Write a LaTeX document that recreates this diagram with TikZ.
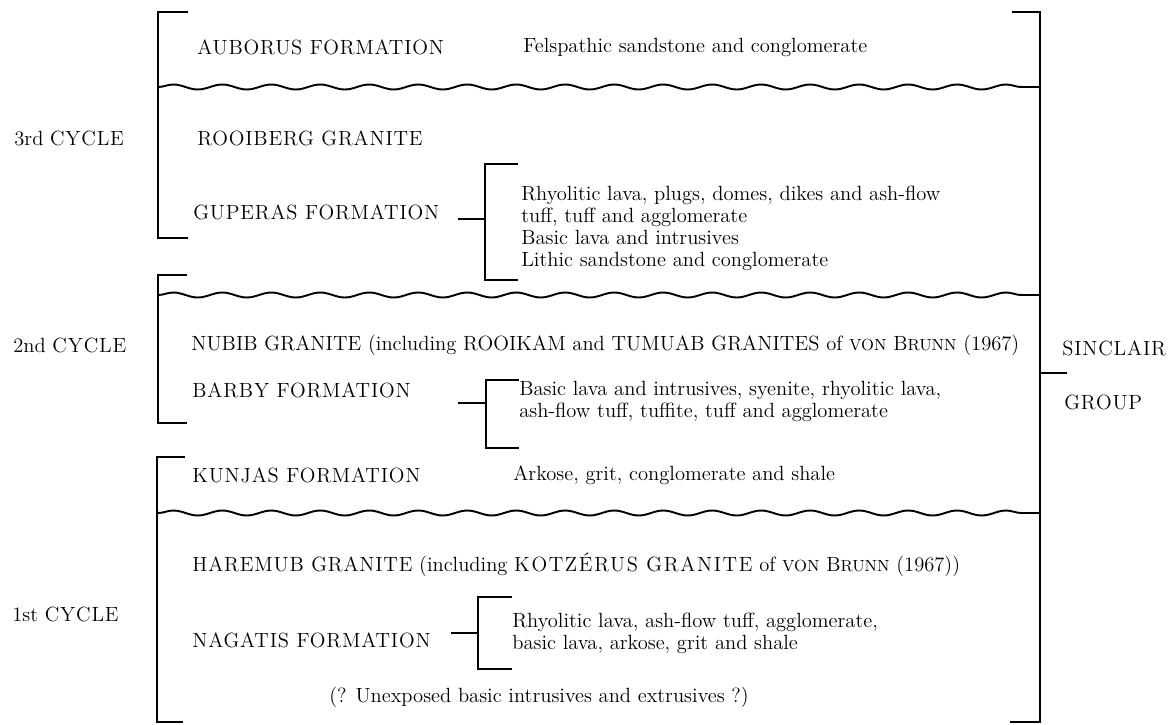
\documentclass[tikz,border=0pt]{standalone}
\usepackage{fontspec}
\setmainfont{Latin Modern Roman}
\usepackage{tikz}
\usetikzlibrary{decorations.pathmorphing,positioning}

% letter-spaced capitals
\newcommand{\spc}[1]{{\addfontfeature{LetterSpace=4}#1}}
\newcommand{\nspc}[1]{{\addfontfeature{LetterSpace=0.5}#1}}
\newcommand{\wspc}[1]{{\addfontfeature{LetterSpace=8}#1}}
% small capitals of the author name
\newcommand{\vonbrunn}{{\fontsize{9.2}{10}\selectfont VON} B{\fontsize{9.2}{10}\selectfont RUNN}}

\begin{document}
\begin{tikzpicture}[
    x=0.02cm, y=-0.02cm,
    txt/.style={anchor=west, inner sep=0pt, font=\fontsize{11.7}{12.5}\selectfont},
    unit/.style={txt},
    rock/.style={txt, align=left},
    cycle/.style={txt},
    brk/.style={line width=1.4pt},
    tick/.style={line width=1.3pt},
    wave/.style={line width=1.1pt, decorate,
        decoration={snake, amplitude=0.05cm, segment length=0.98cm}},
]
\useasboundingbox (0,0) rectangle (1173,724);

% --- Cycle labels ---
\node[cycle] (cyc3) at (14,138) {3rd \spc{CYCLE}};
\node[cycle] (cyc2) at (13,345) {2nd \spc{CYCLE}};
\node[cycle] (cyc1) at (12,614) {1st \spc{CYCLE}};

% --- 3rd cycle ---
\node[unit] (auborus) at (197,47) {\spc{AUBORUS FORMATION}};
\node[rock] (auborusrk) at (523,47) {Felspathic sandstone and conglomerate};
\node[unit] (rooiberg) at (197,138) {\spc{ROOIBERG GRANITE}};
\node[unit] (guperas) at (193,212) {\spc{GUPERAS FORMATION}};
\node[rock] (guperasrk) at (521,228) {Rhyolitic lava, plugs, domes, dikes and ash-flow\\
    tuff, tuff and agglomerate\\Basic lava and intrusives\\Lithic sandstone and conglomerate};

% --- 2nd cycle ---
\node[unit] (nubib) at (191,345) {\nspc{NUBIB GRANITE} (including \nspc{ROOIKAM} and \nspc{TUMUAB GRANITES} of \vonbrunn{} (1967)};
\node[unit] (barby) at (192,390) {\spc{BARBY FORMATION}};
\node[rock] (barbyrk) at (519,401) {Basic lava and intrusives, syenite, rhyolitic lava,\\
    ash-flow tuff, tuffite, tuff and agglomerate};
\node[unit] (kunjas) at (192,475) {\spc{KUNJAS FORMATION}};
\node[rock] (kunjasrk) at (513,475) {Arkose, grit, conglomerate and shale};

% --- 1st cycle ---
\node[unit] (haremub) at (192,565) {\spc{HAREMUB GRANITE} (including \wspc{KOTZÉRUS GRANITE} of \vonbrunn{} (1967))};
\node[unit] (nagatis) at (192,640) {\spc{NAGATIS FORMATION}};
\node[rock] (nagatisrk) at (512,633) {Rhyolitic lava, ash-flow tuff, agglomerate,\\
    basic lava, arkose, grit and shale};
\node[txt] (unexposed) at (329,697) {(? Unexposed basic intrusives and extrusives ?)};

% --- Group ---
\node[txt] (sinclair) at (1062,348) {\spc{SINCLAIR}};
\node[txt] (group) at (1064,402) {\spc{GROUP}};

% --- Cycle brackets ---
\draw[brk] (188,12) -- (158,12) -- (158,238) -- (188,238);
\draw[brk] (187,275) -- (158,275) -- (158,423) -- (187,423);
\draw[brk] (185,457) -- (157,457) -- (157,722) -- (183,722);
\draw[brk] (1012,12) -- (1040,12) -- (1040,722) -- (1010,722);
\coordinate (grouptick) at (1040,373);
\draw[tick] (grouptick) -- ++(27,0);

% --- Unconformities ---
\foreach \y in {87,295,513} {
    \draw[wave] (158,\y) -- (1040,\y);
}

% --- Rock brackets ---
\draw[brk] (518,164) -- (485,164) -- (485,280) -- (518,280);
\coordinate (gupbr) at (485,219);
\draw[tick] (gupbr) -- ++(-27,0);
\draw[brk] (519,380) -- (486,380) -- (486,448) -- (519,448);
\coordinate (barbr) at (486,403);
\draw[tick] (barbr) -- ++(-28,0);
\draw[brk] (512,597) -- (478,597) -- (478,669) -- (512,669);
\coordinate (nagbr) at (478,633);
\draw[tick] (nagbr) -- ++(-27,0);

\end{tikzpicture}
\end{document}
